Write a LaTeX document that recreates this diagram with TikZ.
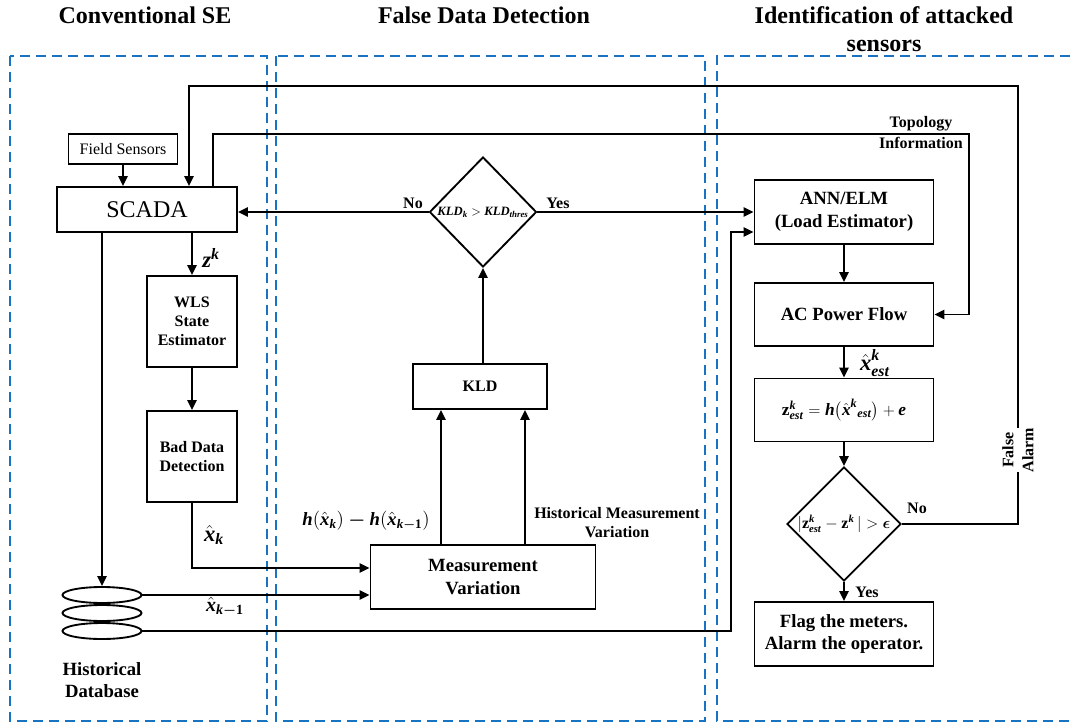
\documentclass[tikz,border=0pt]{standalone}
\usepackage{fontspec}
\setmainfont{Liberation Serif}
\usepackage{amsmath}
\usetikzlibrary{arrows.meta,shapes.geometric,calc}
\definecolor{zoneblue}{RGB}{25,115,195}
\newcommand{\bivar}[1]{\textbf{\textit{#1}}}
\begin{document}
\begin{tikzpicture}[x=0.75pt,y=-0.75pt,
  box/.style={draw, line width=1.4pt, inner sep=0pt, align=center},
  ln/.style={line width=1.4pt},
  arr/.style={line width=1.4pt, -{Triangle[length=7.5pt,width=7pt]}},
  zone/.style={draw=zoneblue, line width=1.6pt, dash pattern=on 7.5pt off 4.5pt},
  dbell/.style={draw, ellipse, line width=1.4pt, inner sep=0pt, minimum width=59.25pt, minimum height=12pt},
  diam/.style={draw, diamond, line width=1.4pt, inner sep=0pt},
  fr/.style={font=\fontsize{12pt}{14pt}\selectfont},
  fb/.style={font=\bfseries\fontsize{12pt}{14.4pt}\selectfont, align=center},
  fbl/.style={font=\bfseries\fontsize{14pt}{17pt}\selectfont, align=center},
  ttl/.style={font=\bfseries\fontsize{18pt}{21pt}\selectfont, align=center},
  lbl/.style={font=\bfseries\fontsize{12pt}{15pt}\selectfont, align=center, inner sep=1pt},
  mlbl/.style={inner sep=0pt},
]
\useasboundingbox (0,0) rectangle (1070,725);

% zones
\draw[zone] (10,56) rectangle (267,721);
\draw[zone] (276,56) rectangle (705,721);
\draw[zone] (1070,56) -- (717,56) -- (717,721) -- (1070,721);

% titles
\node[ttl] (t1) at (145,15) {Conventional SE};
\node[ttl] (t2) at (484,15) {False Data Detection};
\node[ttl] (t3) at (884,29) {Identification of attacked\\sensors};

% left column
\node[box, fr, minimum width=81.75pt, minimum height=22.5pt] (fs) at (123,149) {Field Sensors};
\node[box, font=\fontsize{18pt}{20pt}\selectfont, minimum width=135pt, minimum height=33.75pt] (scada) at (147,209.5) {SCADA};
\node[box, fb, minimum width=67.5pt, minimum height=68.25pt] (wls) at (192,321.5) {WLS\\State\\Estimator};
\node[box, fb, minimum width=67.5pt, minimum height=68.25pt] (bdd) at (192,456.5) {Bad Data\\Detection};
\node[dbell] (db1) at (102,595) {};
\node[dbell] (db2) at (102,613) {};
\node[dbell] (db3) at (102,631) {};
\node[fbl, font=\bfseries\fontsize{14pt}{16.5pt}\selectfont] (hdb) at (102,680) {Historical\\Database};

% middle column
\node[box, fbl, minimum width=168.75pt, minimum height=48pt] (mv) at (483,577) {Measurement\\Variation};
\node[box, fb, minimum width=101pt, minimum height=33.75pt] (kld) at (480,386.5) {KLD};
\node[diam, minimum width=80.25pt, minimum height=82.5pt,
  label={[font=\fontsize{9.5pt}{11pt}\selectfont, inner sep=0pt]center:$\bivar{KLD}_{\bivar{k}} > \bivar{KLD}_{\bivar{thres}}$}] (d1) at (483,212) {};

% right column
\node[box, fbl, minimum width=134.25pt, minimum height=48pt] (ann) at (844,212) {ANN/ELM\\(Load Estimator)};
\node[box, fbl, minimum width=134.25pt, minimum height=47.25pt] (ac) at (844,314.5) {AC Power Flow};
\node[box, font=\fontsize{13pt}{15pt}\selectfont, minimum width=134.25pt, minimum height=47.25pt] (zest) at (844,410) {$\textbf{z}^{\bivar{k}}_{\bivar{est}} = \bivar{h}\big(\hat{\bivar{x}}^{\bivar{k}}{}_{\bivar{est}}\big) + \bivar{e}$};
\node[diam, minimum width=85.5pt, minimum height=85.5pt,
  label={[font=\fontsize{12pt}{13pt}\selectfont, inner sep=0pt]center:$|\textbf{z}^{\bivar{k}}_{\bivar{est}} - \textbf{z}^{\bivar{k}}\,| > \boldsymbol{\epsilon}$}] (d2) at (844,524) {};
\node[box, fbl, minimum width=134.25pt, minimum height=48pt] (flag) at (844,634) {Flag the meters.\\Alarm the operator.};

% connectors
\draw[arr] (fs) -- (fs |- scada.north);
\coordinate (fa) at (1018,86);
\draw[arr] (d2.east) -| (fa) -| ($(scada.north)+(42,0)$);
\node[lbl, fill=white, rotate=90, inner sep=0pt] (falsealarm) at (1018,450) {False\\Alarm};
\coordinate (tp) at (969,134);
\draw[arr] ($(scada.north)+(66,0)$) |- (tp) |- (ac.east);
\draw[arr] (d1.west) -- (d1.west -| scada.east);
\draw[arr] (d1.east) -- (d1.east -| ann.west);
\coordinate (hc) at (731,631);
\draw[arr] (db3.east) -- (hc) |- ($(ann.west)+(0,20)$);
\draw[arr] (ann) -- (ac);
\draw[arr] (ac) -- (zest);
\draw[arr] (zest) -- (d2);
\draw[arr] (d2) -- (flag);
\draw[arr] (scada.south -| wls.north) -- (wls.north);
\draw[arr] (wls) -- (bdd);
\draw[arr] (bdd.south) |- ($(mv.west)+(0,-9)$);
\draw[arr] (scada.south -| db1.north) -- (db1.north);
\draw[arr] (db1.east) -- (db1.east -| mv.west);
\draw[arr] ($(mv.north)+(-42,0)$) coordinate (m1) -- (m1 |- kld.south);
\draw[arr] ($(mv.north)+(42,0)$) coordinate (m2) -- (m2 |- kld.south);
\draw[arr] (d1.south |- kld.north) -- (d1.south);

% labels
\node[lbl] (no1) at (413,203) {No};
\node[lbl] (yes1) at (558,203) {Yes};
\node[lbl] (no2) at (917,508) {No};
\node[lbl] (yes2) at (867,592) {Yes};
\node[lbl, font=\bfseries\fontsize{12pt}{15.75pt}\selectfont] (topo) at (921,133) {Topology\\Information};
\node[lbl, font=\bfseries\fontsize{12pt}{14.3pt}\selectfont] (hmv) at (617,523) {Historical Measurement\\Variation};
\node[mlbl, font=\fontsize{17pt}{19pt}\selectfont] (zk) at (211,258) {$\bivar{z}^{\bivar{k}}$};
\node[mlbl, font=\fontsize{17pt}{19pt}\selectfont] (xk) at (214,535) {$\hat{\bivar{x}}_{\bivar{k}}$};
\node[mlbl, font=\fontsize{15pt}{17pt}\selectfont] (xk1) at (225,607) {$\hat{\bivar{x}}_{\bivar{k}\boldsymbol{-}\textbf{1}}$};
\node[mlbl, font=\fontsize{14pt}{16pt}\selectfont, anchor=east] (hlab) at (430,521) {$\bivar{h}(\hat{\bivar{x}}_{\bivar{k}}) \boldsymbol{-} \bivar{h}(\hat{\bivar{x}}_{\bivar{k}\boldsymbol{-}\textbf{1}})$};
\node[mlbl, font=\fontsize{17pt}{19pt}\selectfont] (xest) at (875,363) {$\hat{\bivar{x}}^{\bivar{k}}_{\bivar{est}}$};
\end{tikzpicture}
\end{document}
